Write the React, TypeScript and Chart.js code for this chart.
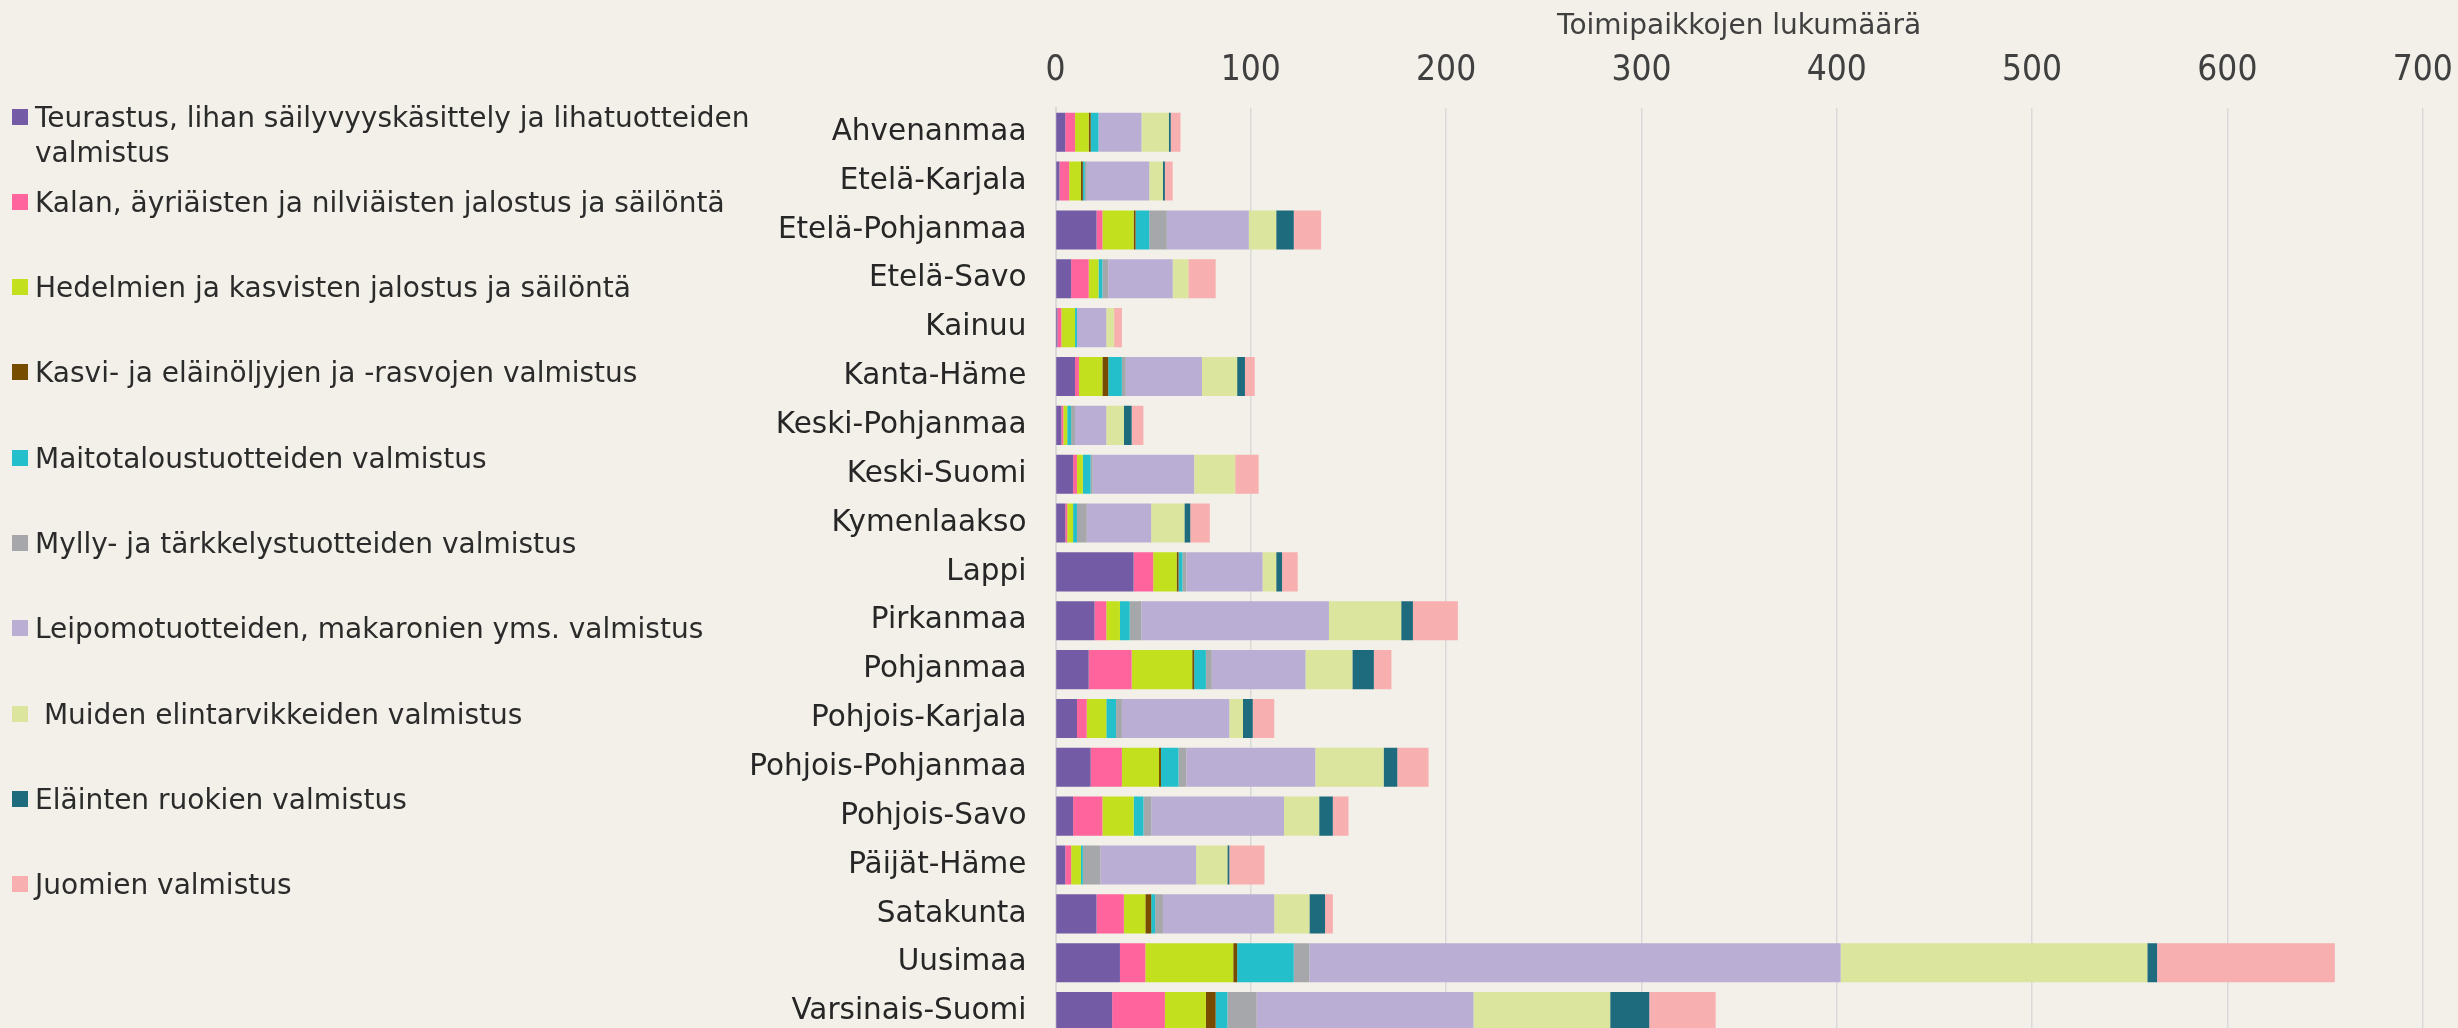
import React, { useEffect, useRef } from "react";
import { Chart, registerables } from "chart.js";

Chart.register(...registerables);

const categories = [
  "Ahvenanmaa", "Etelä-Karjala", "Etelä-Pohjanmaa", "Etelä-Savo", "Kainuu",
  "Kanta-Häme", "Keski-Pohjanmaa", "Keski-Suomi", "Kymenlaakso", "Lappi",
  "Pirkanmaa", "Pohjanmaa", "Pohjois-Karjala", "Pohjois-Pohjanmaa", "Pohjois-Savo",
  "Päijät-Häme", "Satakunta", "Uusimaa", "Varsinais-Suomi",
];

const seriesNames = [
  "Teurastus, lihan säilyvyyskäsittely ja lihatuotteiden valmistus",
  "Kalan, äyriäisten ja nilviäisten jalostus ja säilöntä",
  "Hedelmien ja kasvisten jalostus ja säilöntä",
  "Kasvi- ja eläinöljyjen ja -rasvojen valmistus",
  "Maitotaloustuotteiden valmistus",
  "Mylly- ja tärkkelystuotteiden valmistus",
  "Leipomotuotteiden, makaronien yms. valmistus",
  " Muiden elintarvikkeiden valmistus",
  "Eläinten ruokien valmistus",
  "Juomien valmistus",
];

const seriesColors = [
  "#735ca5", "#ff659c", "#c3e01f", "#774c00", "#23c0cc",
  "#a6a7aa", "#baaed4", "#dbe59d", "#1e6b7d", "#f7afb0",
];

// values per series, in the order of categories
const teurastus = [5, 2, 21, 8, 1, 10, 3, 9, 5, 40, 20, 17, 11, 18, 9, 5, 21, 33, 29];
const kala = [5, 5, 3, 9, 2, 2, 1, 2, 1, 10, 6, 22, 5, 16, 15, 3, 14, 13, 27];
const hedelmat = [7, 6, 16, 5, 7, 12, 2, 3, 3, 12, 7, 31, 10, 19, 16, 5, 11, 45, 21];
const oljyt = [1, 1, 1, 0, 0, 3, 0, 0, 0, 1, 0, 1, 0, 1, 0, 0, 3, 2, 5];
const maito = [4, 1, 7, 2, 1, 7, 2, 4, 2, 2, 5, 6, 5, 9, 5, 1, 2, 29, 6];
const mylly = [0, 1, 9, 3, 0, 2, 2, 1, 5, 2, 6, 3, 3, 4, 4, 9, 4, 8, 15];
const leipomo = [22, 32, 42, 33, 15, 39, 16, 52, 33, 39, 96, 48, 55, 66, 68, 49, 57, 272, 111];
const muut = [14, 7, 14, 8, 4, 18, 9, 21, 17, 7, 37, 24, 7, 35, 18, 16, 18, 157, 70];
const rehut = [1, 1, 9, 0, 0, 4, 4, 0, 3, 3, 6, 11, 5, 7, 7, 1, 8, 5, 20];
const juomat = [5, 4, 14, 14, 4, 5, 6, 12, 10, 8, 23, 9, 11, 16, 8, 18, 4, 91, 34];

const seriesValues = [teurastus, kala, hedelmat, oljyt, maito, mylly, leipomo, muut, rehut, juomat];

const xTicks = [0, 100, 200, 300, 400, 500, 600, 700];
const axisTitle = "Toimipaikkojen lukumäärä";

const BG = "#f2f0e8";
const W = 2458;
const H = 1036;

export default function App() {
  const ref = useRef<HTMLCanvasElement | null>(null);

  useEffect(() => {
    document.body.style.margin = "0";
    document.body.style.background = BG;
    const canvas = ref.current;
    if (!canvas) return;
    const chart = new Chart(canvas, {
      type: "bar",
      data: {
        labels: categories,
        datasets: seriesNames.map((name, i) => ({
          label: name,
          data: seriesValues[i],
          backgroundColor: seriesColors[i],
          borderWidth: 0,
          categoryPercentage: 1,
          barPercentage: 0.8,
        })),
      },
      options: {
        indexAxis: "y",
        responsive: false,
        maintainAspectRatio: false,
        animation: false,
        layout: { padding: { left: 0, right: W - 2422.7, top: 0, bottom: 0 } },
        plugins: {
          legend: { display: false },
          tooltip: { enabled: false },
        },
        scales: {
          x: {
            type: "linear",
            position: "top",
            stacked: true,
            min: xTicks[0],
            max: xTicks[xTicks.length - 1],
            afterBuildTicks: (s: any) => {
              s.ticks = xTicks.map((v) => ({ value: v }));
            },
            afterFit: (s: any) => {
              s.height = 107.8;
              s.paddingLeft = 0;
              s.paddingRight = 0;
            },
            ticks: {
              padding: 16,
              color: "#404040",
              font: { family: "'Liberation Sans Narrow', 'DejaVu Sans Condensed', sans-serif", size: 35 },
            },
            grid: { color: "#d9d9d9", lineWidth: 1.5, drawTicks: false },
            border: { display: false },
            title: {
              display: true,
              text: axisTitle,
              color: "#404040",
              font: { family: "'DejaVu Sans', sans-serif", size: 28 },
              padding: { top: 9.5, bottom: 0 },
            },
          },
          y: {
            type: "category",
            stacked: true,
            afterFit: (s: any) => {
              s.width = 1055.5;
              s.paddingTop = 0;
              s.paddingBottom = 0;
            },
            ticks: {
              padding: 29,
              color: "#262626",
              font: { family: "'DejaVu Sans', sans-serif", size: 29.5 },
            },
            grid: { display: false, drawTicks: false },
            border: { display: true, color: "#d9d9d9", width: 2 },
          },
        },
      },
    });
    return () => chart.destroy();
  }, []);

  return (
    <div style={{ position: "fixed", left: 0, top: 0, width: W, height: 1028, overflow: "hidden", background: BG }}>
      <canvas ref={ref} width={W} height={H} style={{ position: "absolute", left: 0, top: 0, width: W, height: H }} />
      <div style={{ position: "absolute", left: 0, top: 99.5, width: 800 }}>
        {seriesNames.map((name, i) => (
          <div key={i} style={{ position: "absolute", left: 0, top: i * 85.3, width: 800 }}>
            <div style={{ position: "absolute", left: 12, top: 9, width: 16, height: 16, background: seriesColors[i] }} />
            <div
              style={{
                position: "absolute",
                left: 35,
                top: 0,
                width: 730,
                fontFamily: "'DejaVu Sans', sans-serif",
                fontSize: 28,
                lineHeight: "35.7px",
                color: "#2b2b2b",
                whiteSpace: "pre-wrap",
              }}
            >
              {name}
            </div>
          </div>
        ))}
      </div>
    </div>
  );
}
